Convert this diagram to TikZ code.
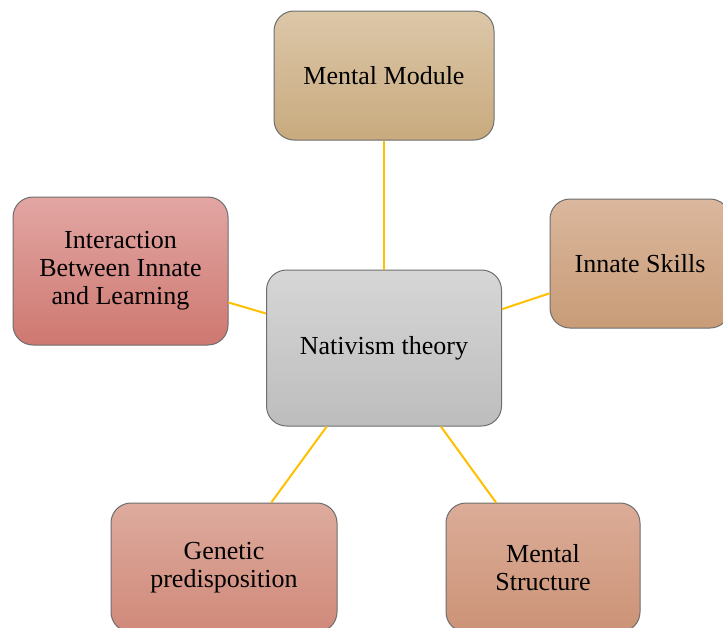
\documentclass[tikz,border=0pt]{standalone}
\usepackage{fontspec}
\setmainfont{Liberation Serif}
\definecolor{edge}{HTML}{6E6E6E}
\definecolor{link}{HTML}{FFC000}
\definecolor{cT}{HTML}{D6D6D6}\definecolor{cB}{HTML}{BDBDBD}
\definecolor{mmT}{HTML}{DCC7A8}\definecolor{mmB}{HTML}{C8AA7E}
\definecolor{isT}{HTML}{DBB79D}\definecolor{isB}{HTML}{C89C77}
\definecolor{ibT}{HTML}{E2A6A3}\definecolor{ibB}{HTML}{CE7870}
\definecolor{gpT}{HTML}{DDAB9D}\definecolor{gpB}{HTML}{D0897A}
\definecolor{msT}{HTML}{DCAC98}\definecolor{msB}{HTML}{CB9376}
\tikzset{
  box/.style={draw=edge, line width=1pt, rounded corners=20pt, align=center,
    font=\fontsize{26}{28}\selectfont, inner sep=0pt},
  link/.style={draw=link, line width=2pt}
}
\begin{document}
\begin{tikzpicture}[x=1pt,y=-1pt]
\useasboundingbox (0,0) rectangle (723,627);
\clip (0,0) rectangle (723,627);
\fill[white] (0,0) rectangle (723,627);
\node[box, minimum width=235pt, minimum height=156pt, top color=cT, bottom color=cB] (c) at (384,348) {Nativism theory};
\node[box, minimum width=220pt, minimum height=129pt, top color=mmT, bottom color=mmB] (mm) at (384,75.5) {Mental Module};
\node[box, minimum width=180pt, minimum height=129pt, top color=isT, bottom color=isB] (is) at (640,263.5) {Innate Skills};
\node[box, minimum width=215pt, minimum height=148pt, top color=ibT, bottom color=ibB] (ib) at (120.5,271) {Interaction\\Between Innate\\and Learning};
\node[box, minimum width=226pt, minimum height=129pt, top color=gpT, bottom color=gpB] (gp) at (224,567.5) {Genetic\\predisposition};
\node[box, minimum width=194pt, minimum height=129pt, top color=msT, bottom color=msB] (ms) at (543,567.5) {Mental\\Structure};
\draw[link] (c) -- (mm);
\draw[link] (c) -- (is);
\draw[link] (c) -- (ib);
\draw[link] (c) -- (gp);
\draw[link] (c) -- (ms);
\end{tikzpicture}
\end{document}
